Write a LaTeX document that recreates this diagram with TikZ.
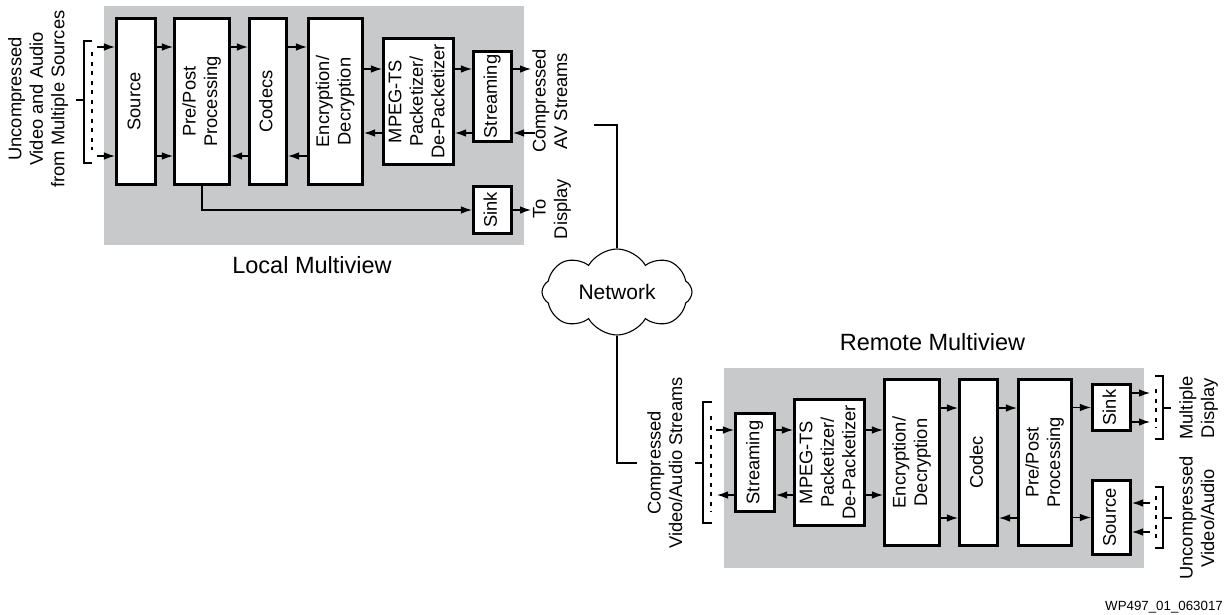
\documentclass[tikz,border=0pt]{standalone}
\usepackage{fontspec}
\setmainfont{Liberation Sans}
\usetikzlibrary{arrows.meta,shapes.symbols}
\definecolor{panel}{RGB}{200,201,203}
\newcommand{\rtext}[1]{\rotatebox{90}{\begin{tabular}{@{}c@{}}#1\end{tabular}}}
\newcommand{\boxfont}{\fontsize{18.3}{21.5}\selectfont}
\newcommand{\titlefont}{\fontsize{23.5}{27}\selectfont}
\begin{document}
\begin{tikzpicture}[x=1pt,y=-1pt,
  boxst/.style={draw, line width=2.6pt, fill=white, inner sep=0pt, font=\boxfont},
  lab/.style={inner sep=0pt, font=\boxfont},
  arr/.style={-{Latex[length=11pt,width=7.5pt]}, line width=1.1pt},
  ln/.style={line width=1.1pt},
  dots/.style={line width=2pt, dash pattern=on 4pt off 5.5pt}]
\useasboundingbox (0,0) rectangle (1225,614);
% panels
\fill[panel] (104,6) rectangle (524,245);
\fill[panel] (724,368) rectangle (1144,568);

% ---------------- Local multiview ----------------
\node[boxst, minimum width=39.5pt, minimum height=166.5pt] (src) at (136,101.5) {\rtext{Source}};
\node[boxst, minimum width=55.5pt, minimum height=166.5pt] (pre) at (202,101.5) {\rtext{Pre/Post\\Processing}};
\node[boxst, minimum width=37.5pt, minimum height=166.5pt] (cod) at (268,101.5) {\rtext{Codecs}};
\node[boxst, minimum width=54.5pt, minimum height=166.5pt] (enc) at (335.5,101.5) {\rtext{Encryption/\\Decryption}};
\node[boxst, minimum width=70.5pt, minimum height=126.5pt] (mpg) at (418.5,101.5) {\rtext{MPEG-TS\\Packetizer/\\De-Packetizer}};
\node[boxst, minimum width=38.5pt, minimum height=90.5pt] (str) at (492.5,96.5) {\rtext{Streaming}};
\node[boxst, minimum width=38.5pt, minimum height=47.5pt] (sink) at (492.5,210) {\rtext{Sink}};

\node[lab] (inlab) at (38.5,99) {\rtext{Uncompressed\\Video and Audio\\from Multiple Sources}};
\node[lab] (avlab) at (552,101) {\rtext{Compressed\\AV Streams}};
\node[lab] (displab) at (552,209) {\rtext{To\\Display}};
\node[inner sep=0pt, font=\titlefont, anchor=base] (loctitle) at (312,273) {Local Multiview};

% bracket left
\draw[ln] (92,41) -- (84,41) -- (84,163) -- (92,163);
\draw[ln] (76,100) -- (84,100);
\draw[dots] (92,52) -- (92,150);
\coordinate (inA) at (97,47);
\coordinate (inB) at (97,156);
\draw[arr] (inA) -- (src.west |- inA);
\draw[arr] (inB) -- (src.west |- inB);

\draw[arr] (src.east |- 0,47) -- (pre.west |- 0,47);
\draw[arr] (pre.east |- 0,47) -- (cod.west |- 0,47);
\draw[arr] (cod.east |- 0,47) -- (enc.west |- 0,47);
\draw[arr] (src.east |- 0,156) -- (pre.west |- 0,156);
\draw[arr] (cod.west |- 0,156) -- (pre.east |- 0,156);
\draw[arr] (enc.west |- 0,156) -- (cod.east |- 0,156);
\draw[arr] (enc.east |- 0,69) -- (mpg.west |- 0,69);
\draw[arr] (mpg.east |- 0,69) -- (str.west |- 0,69);
\draw[arr] (mpg.west |- 0,133) -- (enc.east |- 0,133);
\draw[arr] (str.west |- 0,133) -- (mpg.east |- 0,133);
\coordinate (outA) at (531,69);
\coordinate (inC) at (535,133);
\draw[arr] (str.east |- outA) -- (outA);
\draw[arr] (inC) -- (str.east |- inC);
\draw[arr] (pre.south) |- (sink.west);
\coordinate (outD) at (531,210);
\draw[arr] (sink.east) -- (outD);

% ---------------- Network ----------------
\node[draw, ln, cloud, cloud puffs=8, cloud puff arc=120, aspect=2.0,
  minimum width=150pt, minimum height=86pt, inner sep=0pt,
  font=\fontsize{21}{24}\selectfont] (net) at (617,292) {Network};
\coordinate (avend) at (594,125);
\draw[ln] (avend) -| (net.north);
\coordinate (cvend) at (637,463);
\draw[ln] (net.south) |- (cvend);

% ---------------- Remote multiview ----------------
\node[inner sep=0pt, font=\titlefont, anchor=base] (remtitle) at (932.5,350) {Remote Multiview};
\node[boxst, minimum width=39.5pt, minimum height=98.5pt] (bstr) at (755,462.5) {\rtext{Streaming}};
\node[boxst, minimum width=70.5pt, minimum height=126.5pt] (bmpg) at (829.5,462.5) {\rtext{MPEG-TS\\Packetizer/\\De-Packetizer}};
\node[boxst, minimum width=55.5pt, minimum height=166.5pt] (benc) at (912,462.5) {\rtext{Encryption/\\Decryption}};
\node[boxst, minimum width=38.5pt, minimum height=166.5pt] (bcod) at (978.5,462.5) {\rtext{Codec}};
\node[boxst, minimum width=53.5pt, minimum height=166.5pt] (bpre) at (1045,462.5) {\rtext{Pre/Post\\Processing}};
\node[boxst, minimum width=38.5pt, minimum height=46.5pt] (bsink) at (1111.5,407.5) {\rtext{Sink}};
\node[boxst, minimum width=38.5pt, minimum height=74.5pt] (bsrc) at (1111.5,517.5) {\rtext{Source}};

\node[lab] (cvlab) at (667,463) {\rtext{Compressed\\Video/Audio Streams}};
\node[lab] (mdlab) at (1199,408) {\rtext{Multiple\\Display}};
\node[lab] (uvlab) at (1199,518) {\rtext{Uncompressed\\Video/Audio}};

% bracket bottom-left
\draw[ln] (712,402) -- (703,402) -- (703,523) -- (712,523);
\draw[ln] (695,463) -- (703,463);
\draw[dots] (711,416) -- (711,512);
\coordinate (bin) at (716,430);
\coordinate (bout) at (717,495);
\draw[arr] (bin) -- (bstr.west |- bin);
\draw[arr] (bstr.west |- bout) -- (bout);

\draw[arr] (bstr.east |- 0,430) -- (bmpg.west |- 0,430);
\draw[arr] (bmpg.west |- 0,495) -- (bstr.east |- 0,495);
\draw[arr] (bmpg.east |- 0,430) -- (benc.west |- 0,430);
\draw[arr] (bmpg.east |- 0,495) -- (benc.west |- 0,495);
\draw[arr] (benc.east |- 0,408) -- (bcod.west |- 0,408);
\draw[arr] (benc.east |- 0,518) -- (bcod.west |- 0,518);
\draw[arr] (bcod.east |- 0,408) -- (bpre.west |- 0,408);
\draw[arr] (bpre.west |- 0,518) -- (bcod.east |- 0,518);
\draw[arr] (bpre.east |- bsink.west) -- (bsink.west);
\draw[arr] (bpre.east |- bsrc.west) -- (bsrc.west);

% right brackets
\coordinate (sA) at (1150,393);
\coordinate (sB) at (1150,422);
\draw[arr] (bsink.east |- sA) -- (sA);
\draw[arr] (bsink.east |- sB) -- (sB);
\draw[dots] (1156,389) -- (1156,428);
\draw[ln] (1155,376) -- (1163,376) -- (1163,439) -- (1155,439);
\draw[ln] (1163,408) -- (1171,408);

\coordinate (rA) at (1150,503);
\coordinate (rB) at (1150,532);
\draw[arr] (rA) -- (bsrc.east |- rA);
\draw[arr] (rB) -- (bsrc.east |- rB);
\draw[dots] (1156,496) -- (1156,540);
\draw[ln] (1155,487) -- (1163,487) -- (1163,548) -- (1155,548);
\draw[ln] (1163,518) -- (1172,518);

\node[inner sep=0pt, font=\fontsize{13.3}{15}\selectfont, anchor=base east] (wp) at (1223,610) {WP497\_01\_063017};
\end{tikzpicture}
\end{document}
